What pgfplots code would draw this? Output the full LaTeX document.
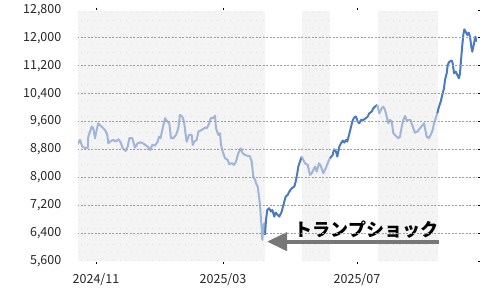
\documentclass[border=0pt]{standalone}
\usepackage{fontspec}
\setmainfont{Noto Sans CJK JP}
\usepackage{pgfplots}
\pgfplotsset{compat=1.18}
\usetikzlibrary{arrows.meta,patterns}
\definecolor{darkline}{HTML}{4A7ABF}
\definecolor{lightline}{HTML}{A0B5D8}
\definecolor{bggray}{HTML}{F4F4F4}
\definecolor{dotgray}{HTML}{C8C8C8}
\definecolor{arrowgray}{HTML}{777777}
\definecolor{gridgray}{HTML}{A0A0A0}
\pgfdeclarepatternformonly{sparsedots}{\pgfpoint{0pt}{0pt}}{\pgfpoint{13pt}{16pt}}{\pgfpoint{13pt}{16pt}}{%
  \pgfpathcircle{\pgfpoint{1pt}{1pt}}{0.45pt}%
  \pgfpathcircle{\pgfpoint{7.5pt}{1pt}}{0.45pt}%
  \pgfpathcircle{\pgfpoint{4pt}{9pt}}{0.45pt}%
  \pgfpathcircle{\pgfpoint{10.5pt}{9pt}}{0.45pt}%
  \pgfusepath{fill}}

\pgfplotstableread{
x y
77 8930
80 9073
82.3 8880
84.3 8852
87.7 8834
88.3 9167
91.7 9454
93.3 9408
95 9122
96.7 9360
98.3 9550
101.7 9454
105 9360
107.3 9217
108.3 8978
111 9044
113.3 9073
115.7 9025
118.3 9093
120.7 9006
122.7 8834
125.7 8757
127.7 8880
129.3 9122
132.3 9122
135 8852
137.7 8978
141 9006
144.3 8950
147.7 8880
150 8786
152.3 8930
155 8910
157.7 9025
159 9167
160.5 9122
162.7 9408
165 9695
167.3 9600
169.3 9550
171 9122
173.3 9122
176 9217
178.3 9408
180 9790
182.3 9742
184 9600
185.7 9217
186.7 9025
189 9217
191.7 9217
192.7 8930
194.3 9025
196.7 9073
198.3 9311
201.7 9360
205 9426
206.7 9408
209.3 9550
210.7 9695
213.3 9695
215 9770
216 9408
218.3 9217
220 9265
221 8930
222.7 8738
225 8548
227.7 8500
229.3 8376
231.7 8405
234 8357
236 8452
238.3 8691
240.7 8834
242.7 8691
245 8640
247.5 8620
250 8600
251.7 8452
253.3 8022
255 7926
256.7 7783
257.7 7735
259 7448
260 7210
261 6780
261.7 6541
262.3 6206
263.3 6588
264.3 6684
265 6350
}\lightA

\pgfplotstableread{
x y
265 6350
266 6780
267.3 7066
269 7114
271 7018
272.3 7066
274.3 6874
275.7 6990
277.7 6923
279.3 6874
281.7 7018
284.3 7305
285.7 7448
287.7 7496
289.3 7592
291.7 7687
294.3 7735
295.7 7878
297.3 8118
298.3 8309
300 8452
301.7 8595
}\darkA

\pgfplotstableread{
x y
301.7 8595
303.3 8500
305 8405
307.7 8357
310 8070
311.7 8118
313.3 8213
315 8309
316.7 8166
319 8405
321 8309
323.3 8118
325.7 8261
328.3 8452
330 8548
}\lightB

\pgfplotstableread{
x y
330 8548
332.7 8643
334 8805
336 8738
337.3 8595
339.3 8880
341 8978
342.7 9054
344.3 8997
346 9073
347.3 9025
349 9217
350.7 9408
352.3 9600
354 9713
356 9742
357.7 9600
359.3 9550
361 9646
363.3 9646
365.7 9695
367.7 9742
369.3 9837
371.7 9885
373.3 9981
375.7 10047
377.3 10076
}\darkB

\pgfplotstableread{
x y
377.3 10076
379.3 9837
381.7 9981
383.3 10028
385 9933
386.7 9742
388.3 9550
390 9646
391.7 9600
393.3 9265
395 9217
396.7 9167
398.3 9122
400 9167
401.7 9454
403.3 9646
405 9761
406.7 9620
408.3 9640
410.5 9646
412.7 9454
415 9282
417.3 9311
420 9408
422.7 9503
424 9550
425.3 9360
426.7 9167
428.7 9122
430.7 9217
432.7 9360
434 9550
435.7 9695
437.3 9837
}\lightC

\pgfplotstableread{
x y
437.3 9837
439 10028
440.7 10172
442.3 10363
444 10554
445 10793
446.7 10985
447.7 11223
449.3 11318
451.7 11347
452.7 11271
454 10985
455.7 11032
457.3 10937
459 10842
460 10985
461.3 11462
462.3 11797
463.3 12083
464.3 12246
465.7 12178
467.3 12083
468.7 12150
470 12034
471.3 11748
472.3 11605
473.7 11797
475.3 12034
476.2 11988
477 11891
}\darkC

\begin{document}
\begin{tikzpicture}
\begin{axis}[
  at={(77pt,39pt)}, anchor=south west,
  scale only axis, width=400pt, height=251pt,
  xmin=77, xmax=477, ymin=5600, ymax=12800,
  axis on top,
  axis line style={white, line width=0.1pt},
  ytick={5600,6400,...,12800},
  ytick pos=right, yticklabel pos=left,
  xtick={96,223,357},
  xticklabels={2024/11,2025/03,2025/07},
  tick align=outside,
  major tick length=2.5pt,
  tick style={black, line width=0.8pt},
  ymajorgrids,
  major grid style={gridgray, dash pattern=on 2pt off 1.5pt, line width=0.8pt},
  scaled y ticks=false,
  /pgf/number format/assume math mode=true,
  /pgf/number format/.cd, fixed, 1000 sep={,}, /pgfplots/.cd,
  tick label style={font=\fontsize{12.5}{14}\selectfont, text=black!85},
  yticklabel style={anchor=east, inner sep=0pt, xshift=-13pt},
  xticklabel style={anchor=north, inner sep=0pt, yshift=-10pt},
]
\addplot[fill=bggray, draw=none] coordinates {(77,5600) (265,5600) (265,12800) (77,12800)} -- cycle;
\addplot[fill=bggray, draw=none] coordinates {(302,5600) (330,5600) (330,12800) (302,12800)} -- cycle;
\addplot[fill=bggray, draw=none] coordinates {(378,5600) (438,5600) (438,12800) (378,12800)} -- cycle;
\addplot[pattern=sparsedots, pattern color=dotgray, draw=none] coordinates {(77,5600) (265,5600) (265,12800) (77,12800)} -- cycle;
\addplot[pattern=sparsedots, pattern color=dotgray, draw=none] coordinates {(302,5600) (330,5600) (330,12800) (302,12800)} -- cycle;
\addplot[pattern=sparsedots, pattern color=dotgray, draw=none] coordinates {(378,5600) (438,5600) (438,12800) (378,12800)} -- cycle;
\addplot[lightline, line width=2pt, line join=round, no markers] table {\lightA};
\addplot[darkline, line width=2pt, line join=round, no markers] table {\darkA};
\addplot[lightline, line width=2pt, line join=round, no markers] table {\lightB};
\addplot[darkline, line width=2pt, line join=round, no markers] table {\darkB};
\addplot[lightline, line width=2pt, line join=round, no markers] table {\lightC};
\addplot[darkline, line width=2pt, line join=round, no markers] table {\darkC};
\draw[arrowgray, line width=4pt, -{Triangle[width=18pt,length=20pt]}] (axis cs:439,6156) -- (axis cs:267,6156);
\node[font=\fontsize{18}{20}\selectfont\bfseries, text=black] at (axis cs:366.5,6492) {トランプショック};
\end{axis}
\pgfresetboundingbox
\path[use as bounding box] (0,0) rectangle (500pt,300pt);
\end{tikzpicture}
\end{document}
